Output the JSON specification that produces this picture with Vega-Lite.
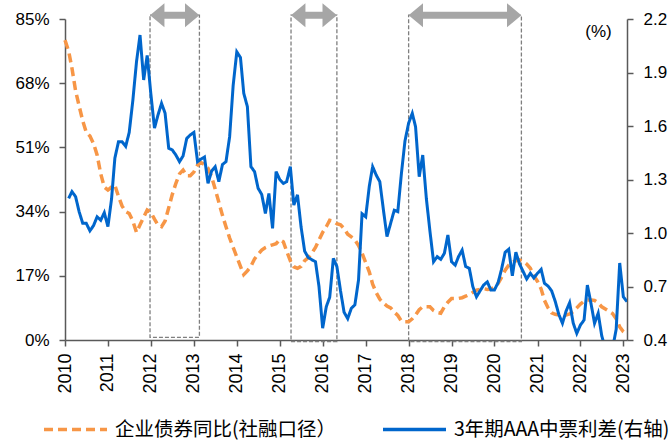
{
  "$schema": "https://vega.github.io/schema/vega-lite/v6.json",
  "autosize": {"type": "none"},
  "padding": {"left": 65, "top": 19, "right": 45, "bottom": 101},
  "width": 562,
  "height": 321,
  "datasets": {
    "boxes": [
      {"start": "2011-12-25", "end": "2013-02-17", "lo": 0.7, "hi": 86},
      {"start": "2015-04-07", "end": "2016-05-01", "lo": -0.4, "hi": 86},
      {"start": "2018-01-01", "end": "2020-08-17", "lo": -0.4, "hi": 86}
    ],
    "bond": [
      {"d":"2010-01-01","v":79.4},{"d":"2010-02-01","v":76.5},{"d":"2010-03-01","v":72},{"d":"2010-04-01","v":66},{"d":"2010-05-01","v":62},{"d":"2010-06-01","v":58},{"d":"2010-07-01","v":55},{"d":"2010-08-01","v":54},{"d":"2010-09-01","v":52},{"d":"2010-10-01","v":49},{"d":"2010-11-01","v":44},{"d":"2010-12-01","v":40.5},
      {"d":"2011-01-01","v":39.7},{"d":"2011-02-01","v":40.5},{"d":"2011-03-01","v":41},{"d":"2011-04-01","v":38},{"d":"2011-05-01","v":35.5},{"d":"2011-06-01","v":34},{"d":"2011-07-01","v":33.5},{"d":"2011-08-01","v":31.5},{"d":"2011-09-01","v":28.5},{"d":"2011-10-01","v":30.5},{"d":"2011-11-01","v":32.5},{"d":"2011-12-01","v":34.4},
      {"d":"2012-01-01","v":33.8},{"d":"2012-02-01","v":32},{"d":"2012-03-01","v":30.5},{"d":"2012-04-01","v":30},{"d":"2012-05-01","v":31.5},{"d":"2012-06-01","v":35},{"d":"2012-07-01","v":38.5},{"d":"2012-08-01","v":41.5},{"d":"2012-09-01","v":44},{"d":"2012-10-01","v":45},{"d":"2012-11-01","v":43.5},{"d":"2012-12-01","v":43.5},
      {"d":"2013-01-01","v":44.5},{"d":"2013-02-01","v":46.3},{"d":"2013-03-01","v":47},{"d":"2013-04-01","v":46.5},{"d":"2013-05-01","v":45.5},{"d":"2013-06-01","v":43.2},{"d":"2013-07-01","v":40},{"d":"2013-08-01","v":36.5},{"d":"2013-09-01","v":33},{"d":"2013-10-01","v":30},{"d":"2013-11-01","v":27},{"d":"2013-12-01","v":24.5},
      {"d":"2014-01-01","v":22},{"d":"2014-02-01","v":19.5},{"d":"2014-03-01","v":17.3},{"d":"2014-04-01","v":18.3},{"d":"2014-05-01","v":19.5},{"d":"2014-06-01","v":21.5},{"d":"2014-07-01","v":22.7},{"d":"2014-08-01","v":23.8},{"d":"2014-09-01","v":24.5},{"d":"2014-10-01","v":24.9},{"d":"2014-11-01","v":25.2},{"d":"2014-12-01","v":25.5},
      {"d":"2015-01-01","v":26.6},{"d":"2015-02-01","v":26},{"d":"2015-03-01","v":23.5},{"d":"2015-04-01","v":21},{"d":"2015-05-01","v":19.4},{"d":"2015-06-01","v":19},{"d":"2015-07-01","v":19.5},{"d":"2015-08-01","v":21},{"d":"2015-09-01","v":21.8},{"d":"2015-10-01","v":23},{"d":"2015-11-01","v":24.5},{"d":"2015-12-01","v":26.5},
      {"d":"2016-01-01","v":28.5},{"d":"2016-02-01","v":30},{"d":"2016-03-01","v":31.7},{"d":"2016-04-01","v":31.5},{"d":"2016-05-01","v":30.8},{"d":"2016-06-01","v":30.5},{"d":"2016-07-01","v":29.5},{"d":"2016-08-01","v":28},{"d":"2016-09-01","v":27.3},{"d":"2016-10-01","v":26.5},{"d":"2016-11-01","v":25},{"d":"2016-12-01","v":23},
      {"d":"2017-01-01","v":20.5},{"d":"2017-02-01","v":18},{"d":"2017-03-01","v":14.8},{"d":"2017-04-01","v":12.5},{"d":"2017-05-01","v":10.8},{"d":"2017-06-01","v":9.8},{"d":"2017-07-01","v":9},{"d":"2017-08-01","v":8.5},{"d":"2017-09-01","v":7.4},{"d":"2017-10-01","v":6.5},{"d":"2017-11-01","v":5},{"d":"2017-12-01","v":4.8},
      {"d":"2018-01-01","v":4.8},{"d":"2018-02-01","v":5.6},{"d":"2018-03-01","v":6.6},{"d":"2018-04-01","v":8},{"d":"2018-05-01","v":8.8},{"d":"2018-06-01","v":8.8},{"d":"2018-07-01","v":8.8},{"d":"2018-08-01","v":7.8},{"d":"2018-09-01","v":7.3},{"d":"2018-10-01","v":7.1},{"d":"2018-11-01","v":8.8},{"d":"2018-12-01","v":10},
      {"d":"2019-01-01","v":11},{"d":"2019-02-01","v":11},{"d":"2019-03-01","v":11},{"d":"2019-04-01","v":11.2},{"d":"2019-05-01","v":11.6},{"d":"2019-06-01","v":12},{"d":"2019-07-01","v":12.6},{"d":"2019-08-01","v":13.2},{"d":"2019-09-01","v":13.4},{"d":"2019-10-01","v":13.6},{"d":"2019-11-01","v":13.4},{"d":"2019-12-01","v":13.5},
      {"d":"2020-01-01","v":14},{"d":"2020-02-01","v":15},{"d":"2020-03-01","v":16.6},{"d":"2020-04-01","v":18.5},{"d":"2020-05-01","v":19.8},{"d":"2020-06-01","v":20.5},{"d":"2020-07-01","v":21},{"d":"2020-08-01","v":21.2},{"d":"2020-09-01","v":20.8},{"d":"2020-10-01","v":20.1},{"d":"2020-11-01","v":19},{"d":"2020-12-01","v":17},
      {"d":"2021-01-01","v":15.5},{"d":"2021-02-01","v":13.5},{"d":"2021-03-01","v":10.5},{"d":"2021-04-01","v":8.5},{"d":"2021-05-01","v":7.2},{"d":"2021-06-01","v":6.8},{"d":"2021-07-01","v":6.6},{"d":"2021-08-01","v":6.6},{"d":"2021-09-01","v":6.6},{"d":"2021-10-01","v":6.9},{"d":"2021-11-01","v":7.5},{"d":"2021-12-01","v":8.5},
      {"d":"2022-01-01","v":9.5},{"d":"2022-02-01","v":10.3},{"d":"2022-03-01","v":10.6},{"d":"2022-04-01","v":10.6},{"d":"2022-05-01","v":10.5},{"d":"2022-06-01","v":9.8},{"d":"2022-07-01","v":8.8},{"d":"2022-08-01","v":8.2},{"d":"2022-09-01","v":7.6},{"d":"2022-10-01","v":7},{"d":"2022-11-01","v":5.6},{"d":"2022-12-01","v":3.5},
      {"d":"2023-01-01","v":2.2},{"d":"2023-02-01","v":1.5}
    ],
    "spread": [
      {"d":"2010-02-01","v":1.194},{"d":"2010-03-01","v":1.232},{"d":"2010-04-01","v":1.204},{"d":"2010-05-01","v":1.12},{"d":"2010-06-01","v":1.054},{"d":"2010-07-01","v":1.054},{"d":"2010-08-01","v":1.012},{"d":"2010-09-01","v":1.042},{"d":"2010-10-01","v":1.091},{"d":"2010-11-01","v":1.072},{"d":"2010-12-01","v":1.114},
      {"d":"2011-01-01","v":1.036},{"d":"2011-02-01","v":1.192},{"d":"2011-03-01","v":1.42},{"d":"2011-04-01","v":1.512},{"d":"2011-05-01","v":1.512},{"d":"2011-06-01","v":1.486},{"d":"2011-07-01","v":1.564},{"d":"2011-08-01","v":1.744},{"d":"2011-09-01","v":1.96},{"d":"2011-10-01","v":2.11},{"d":"2011-11-01","v":1.858},{"d":"2011-12-01","v":1.996},
      {"d":"2012-01-01","v":1.78},{"d":"2012-02-01","v":1.588},{"d":"2012-03-01","v":1.66},{"d":"2012-04-01","v":1.727},{"d":"2012-05-01","v":1.672},{"d":"2012-06-01","v":1.475},{"d":"2012-07-01","v":1.466},{"d":"2012-08-01","v":1.437},{"d":"2012-09-01","v":1.4},{"d":"2012-10-01","v":1.432},{"d":"2012-11-01","v":1.53},{"d":"2012-12-01","v":1.55},
      {"d":"2013-01-01","v":1.564},{"d":"2013-02-01","v":1.4},{"d":"2013-03-01","v":1.414},{"d":"2013-04-01","v":1.426},{"d":"2013-05-01","v":1.278},{"d":"2013-06-01","v":1.348},{"d":"2013-07-01","v":1.372},{"d":"2013-08-01","v":1.288},{"d":"2013-09-01","v":1.384},{"d":"2013-10-01","v":1.4},{"d":"2013-11-01","v":1.54},{"d":"2013-12-01","v":1.828},
      {"d":"2014-01-01","v":2.016},{"d":"2014-02-01","v":1.984},{"d":"2014-03-01","v":1.784},{"d":"2014-04-01","v":1.708},{"d":"2014-05-01","v":1.372},{"d":"2014-06-01","v":1.344},{"d":"2014-07-01","v":1.251},{"d":"2014-08-01","v":1.216},{"d":"2014-09-01","v":1.11},{"d":"2014-10-01","v":1.222},{"d":"2014-11-01","v":1.026},{"d":"2014-12-01","v":1.344},
      {"d":"2015-01-01","v":1.3},{"d":"2015-02-01","v":1.278},{"d":"2015-03-01","v":1.288},{"d":"2015-04-01","v":1.372},{"d":"2015-05-01","v":1.157},{"d":"2015-06-01","v":1.214},{"d":"2015-07-01","v":1.036},{"d":"2015-08-01","v":0.898},{"d":"2015-09-01","v":0.862},{"d":"2015-10-01","v":0.85},{"d":"2015-11-01","v":0.839},{"d":"2015-12-01","v":0.699},
      {"d":"2016-01-01","v":0.466},{"d":"2016-02-01","v":0.587},{"d":"2016-03-01","v":0.64},{"d":"2016-04-01","v":0.858},{"d":"2016-05-01","v":0.812},{"d":"2016-06-01","v":0.676},{"d":"2016-07-01","v":0.556},{"d":"2016-08-01","v":0.52},{"d":"2016-09-01","v":0.578},{"d":"2016-10-01","v":0.597},{"d":"2016-11-01","v":0.736},{"d":"2016-12-01","v":1.108},
      {"d":"2017-01-01","v":1.091},{"d":"2017-02-01","v":1.264},{"d":"2017-03-01","v":1.372},{"d":"2017-04-01","v":1.324},{"d":"2017-05-01","v":1.288},{"d":"2017-06-01","v":1.128},{"d":"2017-07-01","v":0.98},{"d":"2017-08-01","v":1.054},{"d":"2017-09-01","v":1.128},{"d":"2017-10-01","v":1.12},{"d":"2017-11-01","v":1.336},{"d":"2017-12-01","v":1.516},
      {"d":"2018-01-01","v":1.616},{"d":"2018-02-01","v":1.671},{"d":"2018-03-01","v":1.596},{"d":"2018-04-01","v":1.316},{"d":"2018-05-01","v":1.437},{"d":"2018-06-01","v":1.192},{"d":"2018-07-01","v":1.012},{"d":"2018-08-01","v":0.839},{"d":"2018-09-01","v":0.867},{"d":"2018-10-01","v":0.852},{"d":"2018-11-01","v":0.886},{"d":"2018-12-01","v":0.989},
      {"d":"2019-01-01","v":0.839},{"d":"2019-02-01","v":0.82},{"d":"2019-03-01","v":0.867},{"d":"2019-04-01","v":0.904},{"d":"2019-05-01","v":0.812},{"d":"2019-06-01","v":0.802},{"d":"2019-07-01","v":0.699},{"d":"2019-08-01","v":0.642},{"d":"2019-09-01","v":0.676},{"d":"2019-10-01","v":0.708},{"d":"2019-11-01","v":0.726},{"d":"2019-12-01","v":0.681},
      {"d":"2020-01-01","v":0.681},{"d":"2020-02-01","v":0.722},{"d":"2020-03-01","v":0.796},{"d":"2020-04-01","v":0.892},{"d":"2020-05-01","v":0.909},{"d":"2020-06-01","v":0.76},{"d":"2020-07-01","v":0.892},{"d":"2020-08-01","v":0.826},{"d":"2020-09-01","v":0.784},{"d":"2020-10-01","v":0.742},{"d":"2020-11-01","v":0.774},{"d":"2020-12-01","v":0.748},
      {"d":"2021-01-01","v":0.774},{"d":"2021-02-01","v":0.796},{"d":"2021-03-01","v":0.718},{"d":"2021-04-01","v":0.702},{"d":"2021-05-01","v":0.676},{"d":"2021-06-01","v":0.616},{"d":"2021-07-01","v":0.544},{"d":"2021-08-01","v":0.494},{"d":"2021-09-01","v":0.562},{"d":"2021-10-01","v":0.609},{"d":"2021-11-01","v":0.494},{"d":"2021-12-01","v":0.437},
      {"d":"2022-01-01","v":0.484},{"d":"2022-02-01","v":0.512},{"d":"2022-03-01","v":0.708},{"d":"2022-04-01","v":0.604},{"d":"2022-05-01","v":0.494},{"d":"2022-06-01","v":0.55},{"d":"2022-07-01","v":0.424},{"d":"2022-08-01","v":0.352},{"d":"2022-09-01","v":0.34},{"d":"2022-10-01","v":0.352},{"d":"2022-11-01","v":0.46},{"d":"2022-12-01","v":0.832},
      {"d":"2023-01-01","v":0.642},{"d":"2023-02-01","v":0.615}
    ]
  },
  "layer": [
    {
      "layer": [
        {
          "data": {"name": "boxes"},
          "mark": {"type": "rect", "fill": "white", "fillOpacity": 0, "stroke": "#7f7f7f", "strokeWidth": 1.3, "strokeDash": [4, 2]},
          "encoding": {
            "x": {"field": "start", "type": "temporal", "scale": {"domain": ["2010-01-01", "2023-02-01"]},
                  "axis": {"title": null, "format": "%Y", "tickCount": {"interval": "year", "step": 1}, "labelAngle": -90, "labelFontSize": 18, "labelPadding": 7, "labelFlush": false, "labelOverlap": false}},
            "x2": {"field": "end"},
            "y": {"field": "hi", "type": "quantitative", "scale": {"domain": [0, 85], "nice": false, "zero": false},
                  "axis": {"title": null, "values": [0, 17, 34, 51, 68, 85], "labelExpr": "datum.value + '%'", "labelPadding": 10}},
            "y2": {"field": "lo"}
          }
        },
        {
          "data": {"name": "boxes"},
          "mark": {"type": "rule", "color": "#a6a6a6", "strokeWidth": 7, "strokeCap": "butt", "xOffset": 6, "x2Offset": -6},
          "encoding": {
            "x": {"field": "start", "type": "temporal", "axis": {"title": null}},
            "x2": {"field": "end"},
            "y": {"datum": 86, "type": "quantitative"}
          }
        },
        {
          "data": {"name": "boxes"},
          "mark": {"type": "point", "shape": "M 0 0 L 1.2 -1 L 1.2 1 Z", "size": 576, "filled": true, "color": "#a6a6a6", "opacity": 1},
          "encoding": {
            "x": {"field": "start", "type": "temporal", "axis": {"title": null}},
            "y": {"datum": 86, "type": "quantitative"}
          }
        },
        {
          "data": {"name": "boxes"},
          "mark": {"type": "point", "shape": "M 0 0 L -1.2 -1 L -1.2 1 Z", "size": 576, "filled": true, "color": "#a6a6a6", "opacity": 1},
          "encoding": {
            "x": {"field": "end", "type": "temporal", "axis": {"title": null}},
            "y": {"datum": 86, "type": "quantitative"}
          }
        },
        {
          "data": {"name": "bond"},
          "mark": {"type": "line", "strokeWidth": 3.5, "strokeCap": "butt"},
          "encoding": {
            "x": {"field": "d", "type": "temporal", "axis": {"title": null}},
            "y": {"field": "v", "type": "quantitative"},
            "color": {"datum": "企业债券同比(社融口径）", "type": "nominal",
                      "scale": {"domain": ["企业债券同比(社融口径）", "3年期AAA中票利差(右轴)"], "range": ["#f79646", "#0066cc"]},
                      "legend": {"title": null, "orient": "none", "legendX": -23, "legendY": 377, "direction": "horizontal", "columns": 2,
                                 "symbolType": "stroke", "symbolSize": 3969, "symbolStrokeWidth": 3.5,
                                 "labelFont": "Noto Sans CJK SC", "labelFontSize": 19.5, "labelColor": "#000000", "labelLimit": 400,
                                 "labelOffset": 6, "columnPadding": 39, "padding": 0}},
            "strokeDash": {"datum": "企业债券同比(社融口径）", "type": "nominal",
                           "scale": {"domain": ["企业债券同比(社融口径）", "3年期AAA中票利差(右轴)"], "range": [[9, 5], [1, 0]]},
                           "legend": {"title": null, "orient": "none", "legendX": -23, "legendY": 377, "direction": "horizontal", "columns": 2,
                                      "symbolType": "stroke", "symbolSize": 3969, "symbolStrokeWidth": 3.5,
                                      "labelFont": "Noto Sans CJK SC", "labelFontSize": 19.5, "labelColor": "#000000", "labelLimit": 400,
                                      "labelOffset": 6, "columnPadding": 39, "padding": 0}}
          }
        }
      ]
    },
    {
      "data": {"name": "spread"},
      "mark": {"type": "line", "strokeWidth": 3, "clip": true},
      "encoding": {
        "x": {"field": "d", "type": "temporal", "axis": {"title": null}},
        "y": {"field": "v", "type": "quantitative", "scale": {"domain": [0.4, 2.2], "nice": false, "zero": false},
              "axis": {"orient": "right", "values": [0.4, 0.7, 1.0, 1.3, 1.6, 1.9, 2.2], "format": ".1f", "labelPadding": 10,
                       "title": "(%)", "titleAngle": 0, "titleAlign": "center", "titleBaseline": "middle", "titleX": -29, "titleY": 12,
                       "titleFontSize": 17, "titleFontWeight": "normal", "titleFont": "Liberation Sans", "titleColor": "#000000"}},
        "color": {"datum": "3年期AAA中票利差(右轴)", "type": "nominal"},
        "strokeDash": {"datum": "3年期AAA中票利差(右轴)", "type": "nominal"}
      }
    }
  ],
  "resolve": {"scale": {"y": "independent"}},
  "config": {
    "view": {"stroke": null},
    "font": "Liberation Sans",
    "axis": {"grid": false, "domainColor": "#595959", "tickColor": "#595959", "domainWidth": 1.5, "tickWidth": 1.5, "tickSize": 6,
             "labelColor": "#000000", "labelFont": "Liberation Sans", "labelFontSize": 17}
  }
}
